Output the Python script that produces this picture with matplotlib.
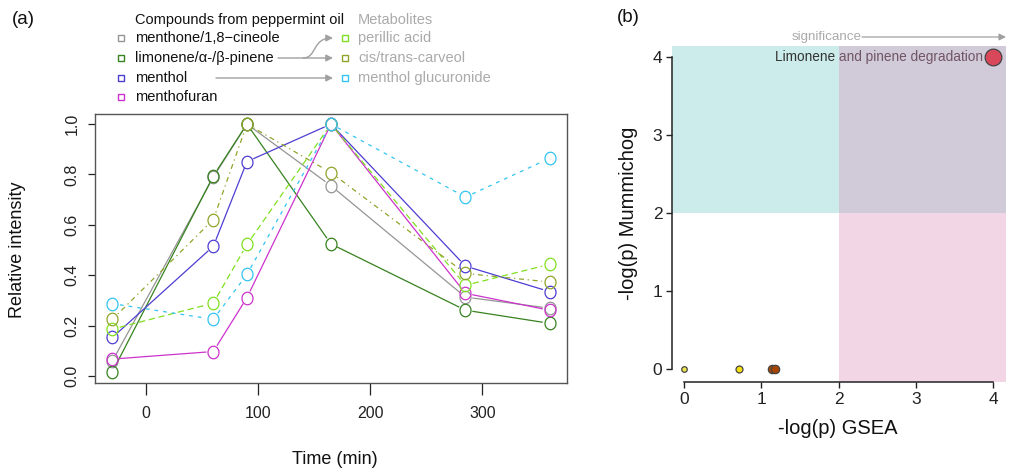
import numpy as np
import matplotlib.pyplot as plt
from matplotlib.patches import FancyArrowPatch, Rectangle
from matplotlib.path import Path

plt.rcParams['font.family'] = ['Liberation Sans', 'DejaVu Sans']

# panel (a): relative intensity over time
time_min = [-30, 60, 90, 165, 285, 360]
menthone = [0.06, 0.789, 1.0, 0.755, 0.313, 0.269]
limonene = [0.017, 0.794, 1.0, 0.524, 0.261, 0.209]
menthol = [0.153, 0.515, 0.851, 1.0, 0.436, 0.335]
menthofuran = [0.067, 0.097, 0.311, 1.0, 0.328, 0.261]
perillic_acid = [0.186, 0.289, 0.522, 1.0, 0.360, 0.443]
carveol = [0.225, 0.621, 1.0, 0.807, 0.407, 0.373]
menthol_glucuronide = [0.287, 0.225, 0.403, 1.0, 0.710, 0.864]

compound_names = ['menthone/1,8\u2212cineole', 'limonene/\u03b1-/\u03b2-pinene', 'menthol', 'menthofuran']
metabolite_names = ['perillic acid', 'cis/trans-carveol', 'menthol glucuronide']

# panel (b): pathway p-values
gsea = [0.0, 0.71, 1.14, 1.18, 4.0]
mummichog = [0.0, 0.0, 0.0, 0.0, 4.0]
pathway_label = 'Limonene and pinene degradation'

series = [
    (menthone, '#959595', '-'),
    (limonene, '#37821f', '-'),
    (menthol, '#4d3ed2', '-'),
    (menthofuran, '#cc33cc', '-'),
    (perillic_acid, '#80e020', (0, (5, 3))),
    (carveol, '#8fa52a', (0, (1, 3, 4, 3))),
    (menthol_glucuronide, '#33c4f2', (0, (3, 4))),
]

W, H = 1011, 468
fig = plt.figure(figsize=(W / 100, H / 100), dpi=100)

ax = fig.add_axes([95 / W, 1 - 383 / H, (567 - 95) / W, (383 - 114) / H])
ax.set_xlim(-45.6, 375.6)
ax.set_ylim(-0.028, 1.04)


def gap_line(ax, x, y, r=7.5, **kw):
    # R type="b": segments stop short of the points
    pts = ax.transData.transform(np.column_stack([x, y]))
    inv = ax.transData.inverted()
    for p, q in zip(pts[:-1], pts[1:]):
        d = q - p
        L = np.hypot(*d)
        if L <= 2 * r:
            continue
        u = d / L
        seg = inv.transform(np.array([p + u * r, q - u * r]))
        ax.plot(seg[:, 0], seg[:, 1], **kw)


t = np.linspace(0, 2 * np.pi, 60)
oval = Path(np.column_stack([0.44 * np.cos(t), 0.5 * np.sin(t)]))

for vals, col, ls in series:
    gap_line(ax, time_min, vals, color=col, ls=ls, lw=0.9)
    ax.plot(time_min, vals, ls='none', marker=oval, ms=9, mfc='none', mec=col, mew=0.9)

ax.set_xticks([0, 100, 200, 300])
ax.set_yticks([0, 0.2, 0.4, 0.6, 0.8, 1.0])
ax.set_yticklabels(['0.0', '0.2', '0.4', '0.6', '0.8', '1.0'], rotation=90, va='center')
ax.tick_params(axis='x', length=8.5, width=0.9, pad=8, labelsize=11.5, colors='#222')
ax.tick_params(axis='y', length=5, width=0.9, pad=6, labelsize=11.5, colors='#222')
for s in ax.spines.values():
    s.set_color('#555')
    s.set_linewidth(1.0)

fig.text(335 / W, 1 - 459 / H, 'Time (min)', ha='center', va='center', fontsize=13, color='#111')
fig.text(18 / W, 1 - 250 / H, 'Relative intensity', ha='center', va='center', rotation=90,
         fontsize=13, color='#111')
fig.text(12 / W, 1 - 20 / H, '(a)', ha='left', va='center', fontsize=13.5, color='#111')

# legend drawn on a pixel overlay
ov = fig.add_axes([0, 0, 1, 1], zorder=5)
ov.set_xlim(0, W)
ov.set_ylim(H, 0)
ov.axis('off')
ov.patch.set_visible(False)

ov.text(135, 20, 'Compounds from peppermint oil', ha='left', va='center', fontsize=10.5, color='#111')
ov.text(358, 20, 'Metabolites', ha='left', va='center', fontsize=10.5, color='#aaaaaa')
rows = [38, 58, 78, 97]
for (vals, col, ls), name, yy in zip(series[:4], compound_names, rows):
    ov.plot([121], [yy], marker='s', ms=5, mfc='none', mec=col, mew=1.0)
    ov.text(135, yy, name, ha='left', va='center', fontsize=10.5, color='#111')
for (vals, col, ls), name, yy in zip(series[4:], metabolite_names, rows):
    ov.plot([345], [yy], marker='s', ms=5, mfc='none', mec=col, mew=1.0)
    ov.text(358, yy, name, ha='left', va='center', fontsize=10.5, color='#aaaaaa')

arrow_kw = dict(arrowstyle='-|>', color='#a0a0a0', lw=1.0, mutation_scale=10, shrinkA=0, shrinkB=0)
ov.annotate('', xy=(333, 58), xytext=(278, 58), arrowprops=arrow_kw)
ov.annotate('', xy=(333, 78), xytext=(216, 78), arrowprops=arrow_kw)
curve = Path([(303, 58), (317, 58), (312, 38), (333, 38)],
             [Path.MOVETO, Path.CURVE4, Path.CURVE4, Path.CURVE4])
ov.add_patch(FancyArrowPatch(path=curve, arrowstyle='-|>', color='#a0a0a0', lw=1.0, mutation_scale=10))

# significance arrow above panel (b)
ov.text(862, 37, 'significance', ha='right', va='center', fontsize=9.6, color='#aaaaaa')
ov.annotate('', xy=(1006, 37), xytext=(862, 37), arrowprops=dict(arrow_kw, lw=0.9))

# panel (b)
bx = fig.add_axes([672 / W, 1 - 382 / H, (1006 - 672) / W, (382 - 46) / H])
x0, x1 = -0.155, 4.165
y0, y1 = -0.167, 4.14
bx.set_xlim(x0, x1)
bx.set_ylim(y0, y1)
bx.add_patch(Rectangle((x0, 2), x1 - x0, y1 - 2, facecolor='#cbeceb', edgecolor='none', zorder=0))
bx.annotate(pathway_label, xy=(gsea[-1], mummichog[-1]), xytext=(-7.5, 0), textcoords='offset points',
            ha='right', va='center', fontsize=9.8, color='#333333', zorder=1)
bx.add_patch(Rectangle((2, y0), x1 - 2, y1 - y0, facecolor=(220 / 255, 144 / 255, 187 / 255),
                       alpha=0.37, edgecolor='none', zorder=2))

dot_colors = ['#f2e650', '#f5e010', '#b04a00', '#a84400', '#d9475a']
dot_sizes = [4, 5, 6, 6, 12]
for gx, my, c, s in zip(gsea, mummichog, dot_colors, dot_sizes):
    bx.plot([gx], [my], 'o', ms=s, mfc=c, mec='#444', mew=0.9, zorder=4)

bx.spines['top'].set_visible(False)
bx.spines['right'].set_visible(False)
bx.spines['left'].set_bounds(0, 4)
bx.spines['bottom'].set_bounds(0, 4)
for s in ('left', 'bottom'):
    bx.spines[s].set_color('#222')
    bx.spines[s].set_linewidth(1.1)
bx.set_xticks([0, 1, 2, 3, 4])
bx.set_yticks([0, 1, 2, 3, 4])
bx.tick_params(length=4, width=1.0, pad=3, labelsize=12.5, colors='#222')

fig.text(838 / W, 1 - 428 / H, '-log(p) GSEA', ha='center', va='center', fontsize=14.5, color='#111')
fig.text(628 / W, 1 - 213 / H, '-log(p) Mummichog', ha='center', va='center', rotation=90,
         fontsize=14.5, color='#111')
fig.text(617 / W, 1 - 18 / H, '(b)', ha='left', va='center', fontsize=13.5, color='#111')

fig.savefig('out.png', dpi=100)
